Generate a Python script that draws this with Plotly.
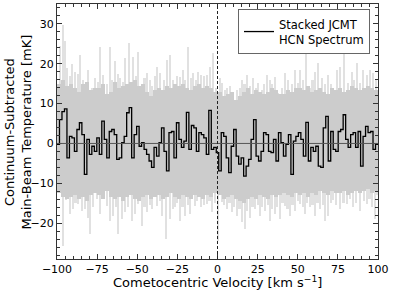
import numpy as np
import plotly.graph_objects as go

# ---- Stacked spectrum (black step line), channels spanning -100..100 km/s
stack_mK = [
    -0.2, 6.0, 8.0, 8.7, -3.6, 1.8, 1.4, -2.0, 3.5, 5.2, 2.2, -7.75, 1.0, -2.75, -0.7,
    -2.0, 1.4, -2.75, 5.6, 1.0, -3.6, 3.0, 3.5, 2.2, -4.0, -3.6, 0.2, 1.8, 7.7, 9.0,
    -3.6, 2.2, 4.3, -0.7, 0.2, -1.5, -2.75, -4.4, -6.0, -1.0, -3.2, 0.2,
    3.9, -2.0, -6.9, 2.7, 3.0, -3.6, 5.2, 1.0, -1.0, 0.6, 7.8, -1.5, 4.5, 3.9, -2.0,
    2.7, 2.2, 1.4, -2.75, 8.3, -1.5, -1.0, -2.3, -6.9, 2.7, 1.8, -3.6, -7.3, -0.7, 3.5,
    -3.2, -5.2, -3.6, -8.2, -5.7, -4.0, 1.0, 6.0, -3.2, -4.4, -2.0, 2.7, 2.2, -2.0, -2.3,
    1.0, -4.4, 2.7,
    0.2, -3.2, -0.2, 2.2, -7.75, 0.6, 1.8, 2.7, 1.0, -3.2, 5.3, -4.4, -1.0, -2.0, -0.7,
    -5.7, -6.0, 3.9, 6.8, -4.4, 3.0, -1.5, -2.0, 3.0, 3.5, 7.2, 1.0, -1.0, 2.2, 2.7,
    -1.0, 3.0, -5.7, 1.8, 4.3, 2.7, 3.0, -1.5, -0.2,
]

# ---- Individual spectra: upper spikes (velocity, mK)
upper_v = [-98, -96.5, -95, -93.5, -92, -90.7, -88.8, -87, -85.7, -83.8, -82, -80.7, -78.2,
           -76.3, -74.5, -73.2, -71.3, -69, -67, -65.5, -63.9, -62, -60.7, -59, -57.6, -55.1,
           -52.6, -51, -49.5, -47, -45.5, -43.9, -42, -40.8, -39, -37.7, -35.8, -33.5, -31.5,
           -29.6, -27.7, -25.5, -23.4, -21.5, -20, -18.4, -16.5, -15.3, -13.5, -12.1, -10,
           -8.5, -6.5, -4.7, -2.8, -1, 1.6, 2.8, 4.5, 5.9, 7.8, 9.7, 12.1, 13.8, 15.3, 16.8,
           18.4, 20, 22.1, 23.7, 25.2, 27.7, 29.2, 30.8, 32.7, 34.2, 35.8, 37.7, 40.2, 42,
           43.9, 46.4, 48.3, 50.2, 51.4, 53.3, 55.1, 57.6, 59.2, 60.7, 62.6, 65.1, 67, 68.8,
           70.5, 72, 74.5, 76.3, 78.8, 81.3, 83.8, 85.3, 86.9, 88.8, 90.7, 93.1, 95, 96.9, 98.5]
upper_mK = [24.4, 29.7, 25.6, 19, 17, 20, 18, 17.5, 22.3, 16, 15.5, 18.5, 14,
            16.4, 15.5, 24.3, 17.3, 15, 24.3, 16, 20.6, 17.5, 16.4, 15.5, 21.4, 25.2,
            21.8, 17, 23, 14, 16.5, 17.7, 16, 14.3, 17, 19.3, 17.7, 16, 21,
            22.3, 16, 17, 16.8, 18.5, 16, 24.3, 16.5, 17.7, 16, 18, 17.3,
            17, 17.3, 19.3, 22.6, 14, 16.4, 15.2, 13.5, 14, 14.3, 11, 13.5, 14, 16, 15,
            17.3, 14.5, 16.4, 14, 15.2, 13.5, 15, 17.3, 16, 15, 16.8, 12.7, 14, 17.7,
            16, 14.8, 18.5, 15.2, 18.5, 16, 22.6, 14, 16, 18, 20.2, 16.4, 14.8, 17.3,
            15, 13.1, 18.5, 19.3, 25.2, 15.2, 18, 16, 20.2, 15.2, 18.5, 17.3, 18.5, 17.7, 16]

# ---- Individual spectra: lower spikes (velocity, mK)
lower_v = [-98.8, -96.3, -94.4, -91.9, -90, -88.5, -86.9, -84.4, -82.5, -80.7, -79.4, -77.6,
           -75, -73.2, -71.3, -68.8, -67, -65.1, -63.5, -62, -59.5, -57.6, -55.8, -53.3,
           -51.4, -49.5, -47, -45.5, -43.9, -42.3, -40.8, -37.7, -36, -34.6, -32.1, -29.6,
           -28, -26.5, -25, -23.4, -21.8, -20.2, -18.6, -17.1, -14, -12.5, -10.5, -8.5,
           -6.5, -5, -3.4, -1.5, 0.3, 2.8, 4.3, 5.9, 7.5, 9, 10.5, 12.1, 13.7, 15.3, 17.1,
           18.6, 20.2, 21.8, 23.4, 25, 26.5, 28, 29.6, 31.2, 32.7, 34.2, 35.8, 37.3, 38.9,
           40.5, 42, 43.6, 45.2, 46.7, 48.3, 50, 51.4, 53, 54.5, 56, 57.6, 59.2, 60.7, 62.3,
           63.9, 65.5, 67, 68.8, 70.5, 72, 74, 76.3, 78.5, 80.7, 82.5, 84.4, 86.5, 88.8, 91,
           93.1, 94.7, 96.3, 98.1, 99.5]
lower_mK = [-12.3, -25.7, -14.3, -17.8, -16.5, -15, -15.3, -16.9, -16.5, -18.6, -22.8, -16,
            -14, -17.8, -13.2, -15.7, -19.4, -18.2, -16, -22.8, -19, -17.3, -16, -19.4,
            -17.8, -15.3, -20.7, -16, -17.3, -15.5, -16.5, -15.7, -14.5, -18.2, -24, -19,
            -16.5, -16, -15, -19.4, -16, -18.2, -15.5, -17.8, -15.7, -14.5, -16, -15.5,
            -15.3, -14.5, -17.3, -15, -24.4, -14.8, -15.5, -16.5, -15, -17.3, -16, -18.2, -16.5, -19.8, -21.5,
            -17, -18.6, -16, -16.5, -15.5, -18.2, -16, -16.9, -15.5, -19.4, -16.5, -17.8, -16, -19,
            -15, -15.7, -16.5, -18.2, -15.5, -16.9, -14.5, -15.3, -16, -17.8, -15, -16, -15.5, -18.2, -15,
            -16.5, -15.5, -19.4, -18.2, -15, -14.3, -15.5, -16.5, -15, -15.3, -14, -16, -15, -16.9, -14.5,
            -15.3, -14, -16, -19, -13]

# ---- Dense overlap band of the individual spectra (2.5 km/s bins from -100)
band_top_mK = [15, 16, 14.5, 15, 14, 13, 15, 15.5, 13.5, 14, 14, 15, 12.5, 13, 15.5, 14,
               14.5, 15, 15.5, 16, 14.5, 15, 13, 12, 13.5, 14, 13.5, 14.5, 14, 15, 14.5, 15,
               14, 13.5, 14.5, 15, 14, 14.5, 14, 13, 13, 12, 12.5, 13, 11, 12, 13, 14,
               12.5, 13.5, 13, 12.5, 13, 14, 13.5, 12.5, 12.5, 13.5, 13, 14, 14, 13.5, 14.5,
               13, 13.5, 14, 13, 12.5, 14, 13.5, 14, 13, 13.5, 14.5, 14, 13.5, 14, 14.5, 14, 13.5]
band_bot_mK = [-12.5, -13.5, -14, -13.5, -13, -14, -13.5, -14.5, -13, -12.5, -13, -14, -12,
               -13.5, -14, -13.5, -14.5, -13.5, -13, -14, -14.5, -13.5, -13, -14, -13.5,
               -13, -14, -13.5, -12.5, -13.5, -14, -13, -13.5, -14, -13, -13.5, -14, -13,
               -13.5, -12.5, -13, -14, -13.5, -13, -14, -14.5, -15, -14, -13.5, -14, -13,
               -13.5, -14, -13, -13.5, -13, -12.5, -13, -13.5, -12.5, -13, -12.5, -13.5,
               -12.5, -13, -12, -12.5, -13, -12, -12.5, -12.5, -12, -13, -12.5, -12, -12.5,
               -12, -11.5, -12.5, -12]

x_ticks = [-100, -75, -50, -25, 0, 25, 50, 75, 100]
x_ticklabels = ["\u2212100", "\u221275", "\u221250", "\u221225", "0", "25", "50", "75", "100"]
y_ticks = [-20, -10, 0, 10, 20, 30]
y_ticklabels = ["\u221220", "\u221210", "0", "10", "20", "30"]

FONT = "DejaVu Sans"
fig = go.Figure()

# light spikes
fig.add_trace(go.Bar(x=upper_v, y=upper_mK, base=0, width=1.3,
                     marker=dict(color="#e1e1e1", line=dict(width=0)),
                     showlegend=False, hoverinfo="skip"))
fig.add_trace(go.Bar(x=lower_v, y=lower_mK, base=0, width=1.3,
                     marker=dict(color="#e1e1e1", line=dict(width=0)),
                     showlegend=False, hoverinfo="skip"))

# dense band
nb = len(band_top_mK)
bw = 200.0 / nb
band_c = -100 + bw * (np.arange(nb) + 0.5)
bt = np.array(band_top_mK)
bb = np.array(band_bot_mK)
fig.add_trace(go.Bar(x=band_c, y=bt - bb, base=bb, width=bw,
                     marker=dict(color="#cccccc", line=dict(width=0)),
                     showlegend=False, hoverinfo="skip"))

# zero line
fig.add_shape(type="line", x0=-100, x1=100, y0=0, y1=0, xref="x", yref="y",
              line=dict(color="#555555", width=1), layer="above")

# stacked spectrum
n = len(stack_mK)
edges = np.linspace(-100, 100, n + 1)
fig.add_trace(go.Scatter(x=edges, y=list(stack_mK) + [stack_mK[-1]], mode="lines",
                         line=dict(shape="hv", color="black", width=1.3),
                         name="Stacked JCMT<br>HCN Spectrum", showlegend=True))

# vertical dashed line at 0
fig.add_shape(type="line", x0=0, x1=0, y0=-29, y1=35, xref="x", yref="y",
              line=dict(color="#222222", width=1, dash="3px,2px"), layer="above")

axis_common = dict(showgrid=False, zeroline=False, showline=True, linecolor="#333333",
                   linewidth=1.3, mirror="allticks", ticks="inside", ticklen=5,
                   tickwidth=1, tickcolor="#333333",
                   tickfont=dict(family=FONT, size=11, color="black"))

fig.update_layout(
    width=393, height=293,
    margin=dict(l=57, r=15, t=4, b=34),
    paper_bgcolor="white", plot_bgcolor="white",
    barmode="overlay", bargap=0,
    font=dict(family=FONT, size=11, color="black"),
    xaxis=dict(range=[-100, 100], tickvals=x_ticks, ticktext=x_ticklabels,
               minor=dict(ticks="inside", dtick=5, tick0=0, ticklen=2.5, tickcolor="#333333"),
               **axis_common),
    yaxis=dict(range=[-29, 35], tickvals=y_ticks, ticktext=y_ticklabels,
               minor=dict(ticks="inside", dtick=2, tick0=0, ticklen=2.5, tickcolor="#333333"),
               **axis_common),
    legend=dict(x=0.975, y=0.98, xanchor="right", yanchor="top",
                bgcolor="white", bordercolor="#666666", borderwidth=1,
                font=dict(family=FONT, size=11.5, color="black"),
                tracegroupgap=0, itemwidth=30),
    showlegend=True,
)

fig.add_annotation(text="Continuum-Subtracted<br>Main-Beam Temperature [mK]",
                   xref="paper", yref="paper", x=-0.1215, y=0.5, textangle=-90,
                   showarrow=False, xanchor="center", yanchor="middle",
                   font=dict(family=FONT, size=13, color="black"))
fig.add_annotation(text="Cometocentric Velocity [km s<sup>\u22121</sup>]",
                   xref="paper", yref="paper", x=0.5, y=-0.09,
                   showarrow=False, xanchor="center", yanchor="middle",
                   font=dict(family=FONT, size=13, color="black"))

fig.write_html("out.html", config={"displayModeBar": False},
               post_script="document.body.style.margin='0';document.body.style.padding='0';")
